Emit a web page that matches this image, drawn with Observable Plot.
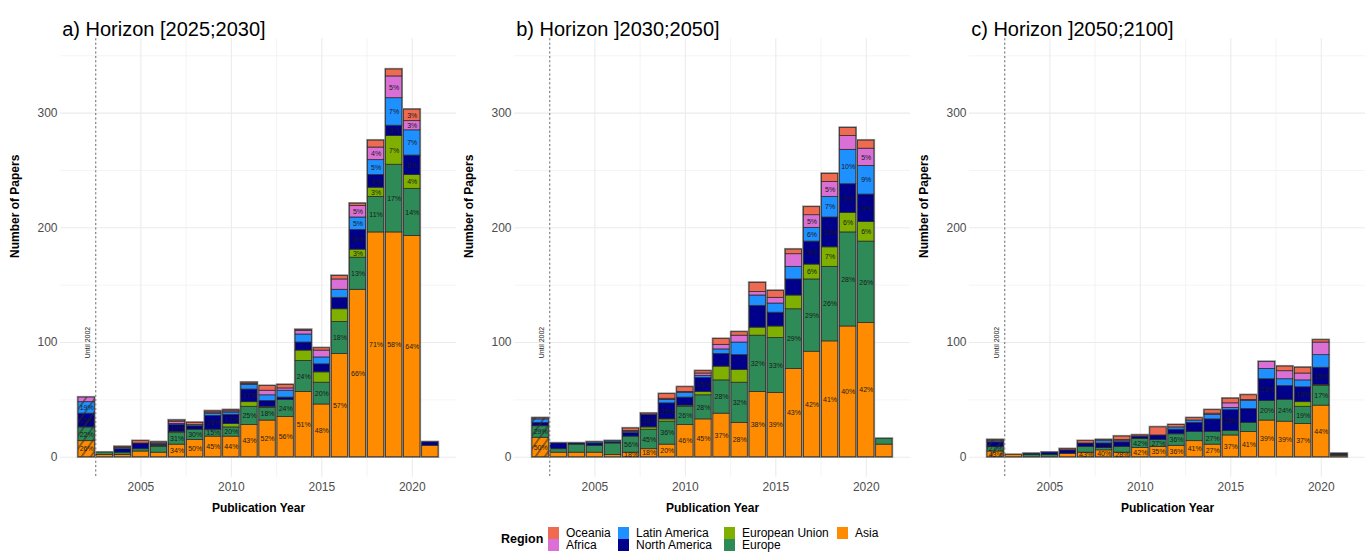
<!DOCTYPE html>
<html>
<head>
<meta charset="utf-8">
<script src="https://cdn.jsdelivr.net/npm/d3@7"></script>
<script src="https://cdn.jsdelivr.net/npm/@observablehq/plot@0.6"></script>
<style>
  body { margin: 0; background: #fff; font-family: "Liberation Sans", Arial, Helvetica, sans-serif; }
  #root { position: relative; width: 1370px; height: 552px; overflow: hidden; background: #fff; }
  .panel { position: absolute; top: 0; }
  .lg-key { position: absolute; width: 11px; height: 12px; }
  .lg-txt { position: absolute; font-size: 12px; color: #000; line-height: 12px; white-space: nowrap; }
  .lg-title { position: absolute; font-size: 12.5px; font-weight: bold; color: #000; line-height: 14px; }
</style>
</head>
<body>
<svg width="0" height="0" style="position:absolute">
  <defs>
    <pattern id="hatch" patternUnits="userSpaceOnUse" width="7.5" height="7.5" patternTransform="rotate(35)">
      <line x1="3.75" y1="-1" x2="3.75" y2="8.5" stroke="#2a2a2a" stroke-width="1"></line>
    </pattern>
  </defs>
</svg>
<div id="root"></div>
<script>
// ---------------- DATA ----------------
const years = [2002, 2003, 2004, 2005, 2006, 2007, 2008, 2009, 2010, 2011,
               2012, 2013, 2014, 2015, 2016, 2017, 2018, 2019, 2020, 2021];
// stacking order, bottom to top
const regions = ["Asia", "Europe", "European Union", "North America", "Latin America", "Africa", "Oceania"];
const regionColors = ["#FF8C00", "#2E8B57", "#7FB000", "#00008B", "#1E90FF", "#DA70D6", "#EE6A50"];
const legendColumns = [["Oceania", "Africa"], ["Latin America", "North America"], ["European Union", "Europe"], ["Asia"]];

const panelTitles = ["a) Horizon [2025;2030]", "b) Horizon ]2030;2050]", "c) Horizon ]2050;2100]"];

const xMajorTicks = [2005, 2010, 2015, 2020];
const xMinorTicks = [2002.5, 2007.5, 2012.5, 2017.5];
const yMajorTicks = [0, 100, 200, 300];
const yMinorTicks = [50, 150, 250, 350];

// Panel a) Horizon [2025;2030] : counts per region, years 2002..2021
const aAsia    = [14, 2, 2, 5, 4, 11, 15, 18, 18, 28, 32, 35, 57, 46, 90, 146, 196, 196, 193, 10];
const aEurope  = [12, 2, 2, 2, 5, 10, 9, 6, 8, 16, 11, 15, 27, 19, 28, 28, 31, 59, 41, 0];
const aEU      = [0, 0, 0, 0, 1, 1, 0, 0, 3, 4, 1, 0, 9, 9, 11, 7, 8, 25, 12, 0];
const aNAm     = [12, 0, 3, 5, 1, 6, 3, 12, 8, 11, 5, 2, 7, 7, 10, 17, 11, 9, 17, 3];
const aLAm     = [10, 0, 1, 0, 1, 1, 1, 2, 2, 4, 5, 6, 7, 6, 7, 11, 13, 24, 22, 0];
const aAfrica  = [4, 0, 0, 0, 0, 2, 0, 1, 1, 1, 4, 2, 3, 6, 9, 10, 11, 19, 8, 0];
const aOceania = [0, 0, 1, 2, 1, 1, 2, 1, 1, 1, 4, 3, 1, 2, 3, 2, 6, 6, 10, 0];

// Panel b) Horizon ]2030;2050]
const bAsia    = [17, 4, 4, 4, 2, 4, 7, 11, 28, 33, 38, 30, 57, 56, 77, 92, 101, 114, 117, 11];
const bEurope  = [10, 3, 7, 6, 10, 14, 17, 20, 16, 21, 29, 35, 49, 48, 52, 63, 65, 82, 71, 5];
const bEU      = [0, 0, 0, 0, 0, 0, 2, 2, 1, 3, 12, 11, 7, 10, 12, 13, 17, 17, 17, 0];
const bNAm     = [3, 5, 1, 2, 1, 3, 11, 14, 7, 12, 11, 13, 19, 12, 14, 20, 26, 25, 24, 0];
const bLAm     = [3, 0, 0, 1, 1, 1, 0, 3, 4, 2, 4, 11, 9, 8, 11, 12, 18, 30, 25, 0];
const bAfrica  = [0, 0, 0, 0, 0, 1, 0, 1, 1, 2, 4, 6, 3, 5, 11, 11, 13, 12, 15, 0];
const bOceania = [1, 0, 0, 0, 0, 2, 1, 4, 4, 2, 5, 3, 8, 6, 4, 7, 7, 7, 7, 0];

// Panel c) Horizon ]2050;2100]
const cAsia    = [5, 2, 0, 0, 3, 4, 6, 4, 8, 9, 10, 14, 11, 19, 22, 32, 31, 29, 45, 1];
const cEurope  = [4, 0, 2, 2, 0, 5, 2, 5, 8, 6, 10, 8, 11, 4, 8, 17, 19, 15, 17, 1];
const cEU      = [0, 0, 0, 0, 0, 0, 0, 0, 0, 0, 0, 0, 0, 0, 0, 0, 0, 4, 1, 0];
const cNAm     = [4, 0, 1, 2, 3, 3, 4, 4, 2, 4, 4, 8, 11, 18, 12, 19, 12, 13, 15, 1];
const cLAm     = [1, 0, 0, 0, 0, 0, 2, 1, 0, 0, 2, 2, 4, 2, 7, 9, 6, 6, 11, 0];
const cAfrica  = [0, 0, 0, 0, 0, 0, 0, 1, 0, 0, 0, 0, 1, 4, 1, 6, 7, 6, 11, 0];
const cOceania = [1, 0, 0, 0, 1, 2, 1, 3, 1, 7, 2, 2, 3, 4, 4, 0, 4, 5, 2, 0];

// Percentage labels shown on segments: [year, region, text]
const aLabels = [
  [2002, "Asia", "26%"], [2002, "Europe", "22%"], [2002, "North America", "25%"], [2002, "Latin America", "19%"],
  [2007, "Asia", "34%"], [2007, "Europe", "31%"], [2007, "North America", "19%"],
  [2008, "Asia", "50%"], [2008, "Europe", "30%"],
  [2009, "Asia", "45%"], [2009, "Europe", "15%"], [2009, "North America", "28%"],
  [2010, "Asia", "44%"], [2010, "Europe", "20%"], [2010, "North America", "17%"],
  [2011, "Asia", "43%"], [2011, "Europe", "25%"], [2011, "North America", "17%"],
  [2012, "Asia", "52%"], [2012, "Europe", "18%"],
  [2013, "Asia", "56%"], [2013, "Europe", "24%"],
  [2014, "Asia", "51%"], [2014, "Europe", "24%"],
  [2015, "Asia", "48%"], [2015, "Europe", "20%"],
  [2016, "Asia", "57%"], [2016, "Europe", "18%"],
  [2017, "Asia", "66%"], [2017, "Europe", "13%"], [2017, "European Union", "3%"], [2017, "North America", "8%"], [2017, "Latin America", "5%"], [2017, "Africa", "5%"],
  [2018, "Asia", "71%"], [2018, "Europe", "11%"], [2018, "European Union", "3%"], [2018, "North America", "4%"], [2018, "Latin America", "5%"], [2018, "Africa", "4%"],
  [2019, "Asia", "58%"], [2019, "Europe", "17%"], [2019, "European Union", "7%"], [2019, "North America", "3%"], [2019, "Latin America", "7%"], [2019, "Africa", "5%"],
  [2020, "Asia", "64%"], [2020, "Europe", "14%"], [2020, "European Union", "4%"], [2020, "North America", "6%"], [2020, "Latin America", "7%"], [2020, "Africa", "3%"], [2020, "Oceania", "3%"]
];
const bLabels = [
  [2002, "Asia", "50%"], [2002, "Europe", "29%"],
  [2007, "Asia", "18%"], [2007, "Europe", "56%"],
  [2008, "Asia", "18%"], [2008, "Europe", "45%"], [2008, "North America", "28%"],
  [2009, "Asia", "20%"], [2009, "Europe", "36%"], [2009, "North America", "25%"],
  [2010, "Asia", "46%"], [2010, "Europe", "26%"],
  [2011, "Asia", "45%"], [2011, "Europe", "28%"], [2011, "North America", "15%"],
  [2012, "Asia", "37%"], [2012, "Europe", "28%"],
  [2013, "Asia", "28%"], [2013, "Europe", "32%"],
  [2014, "Asia", "38%"], [2014, "Europe", "32%"],
  [2015, "Asia", "39%"], [2015, "Europe", "33%"],
  [2016, "Asia", "43%"], [2016, "Europe", "29%"],
  [2017, "Asia", "42%"], [2017, "Europe", "29%"], [2017, "European Union", "6%"], [2017, "North America", "9%"], [2017, "Latin America", "6%"], [2017, "Africa", "5%"],
  [2018, "Asia", "41%"], [2018, "Europe", "26%"], [2018, "European Union", "7%"], [2018, "North America", "10%"], [2018, "Latin America", "7%"], [2018, "Africa", "5%"],
  [2019, "Asia", "40%"], [2019, "Europe", "28%"], [2019, "European Union", "6%"], [2019, "North America", "9%"], [2019, "Latin America", "10%"],
  [2020, "Asia", "42%"], [2020, "Europe", "26%"], [2020, "European Union", "6%"], [2020, "North America", "9%"], [2020, "Latin America", "9%"], [2020, "Africa", "5%"]
];
const cLabels = [
  [2002, "Asia", "43%"], [2002, "Europe", "27%"],
  [2007, "Asia", "43%"],
  [2008, "Asia", "40%"], [2008, "North America", "27%"],
  [2009, "Asia", "28%"],
  [2010, "Asia", "42%"], [2010, "Europe", "42%"],
  [2011, "Asia", "35%"], [2011, "Europe", "27%"],
  [2012, "Asia", "36%"], [2012, "Europe", "36%"],
  [2013, "Asia", "41%"],
  [2014, "Asia", "27%"], [2014, "Europe", "27%"],
  [2015, "Asia", "37%"], [2015, "North America", "35%"],
  [2016, "Asia", "41%"],
  [2017, "Asia", "39%"], [2017, "Europe", "20%"], [2017, "North America", "23%"],
  [2018, "Asia", "39%"], [2018, "Europe", "24%"],
  [2019, "Asia", "37%"], [2019, "Europe", "19%"], [2019, "North America", "16%"],
  [2020, "Asia", "44%"], [2020, "Europe", "17%"], [2020, "North America", "15%"]
];

const untilLabel = "Until 2002";
const xTitle = "Publication Year";
const yTitle = "Number of Papers";
const legendTitle = "Region";

const panels = [
  {title: panelTitles[0], series: [aAsia, aEurope, aEU, aNAm, aLAm, aAfrica, aOceania], labels: aLabels},
  {title: panelTitles[1], series: [bAsia, bEurope, bEU, bNAm, bLAm, bAfrica, bOceania], labels: bLabels},
  {title: panelTitles[2], series: [cAsia, cEurope, cEU, cNAm, cLAm, cAfrica, cOceania], labels: cLabels}
];

// ---------------- BUILD ----------------
const FONT = '"Liberation Sans", Arial, Helvetica, sans-serif';
const halfWidth = 0.45;
const panelLefts = [3, 457.3, 911.6];

function stackRows(series) {
  const rows = [], totals = [], lookup = new Map();
  years.forEach((yr, i) => {
    let acc = 0;
    regions.forEach((r, k) => {
      const v = series[k][i];
      if (v > 0) {
        const row = {year: yr, region: r, y1: acc, y2: acc + v};
        rows.push(row);
        lookup.set(yr + "|" + r, row);
      }
      acc += v;
    });
    totals.push({year: yr, total: acc});
  });
  return {rows, totals, lookup};
}

const root = document.getElementById("root");

panels.forEach((p, idx) => {
  const {rows, totals, lookup} = stackRows(p.series);
  const labelRows = p.labels
    .map(([yr, r, t]) => {
      const s = lookup.get(yr + "|" + r);
      return s ? {year: yr, mid: (s.y1 + s.y2) / 2, text: t} : null;
    })
    .filter(d => d);
  const firstTotal = totals.filter(d => d.year === years[0]);

  const chart = Plot.plot({
    width: 454,
    height: 522,
    marginLeft: 57,
    marginRight: 1,
    marginTop: 38.3,
    marginBottom: 45.3,
    style: {fontFamily: FONT, background: "transparent", overflow: "visible"},
    x: {domain: [2000.555, 2022.445], axis: null},
    y: {domain: [-17.4, 364.8], axis: null},
    color: {domain: regions, range: regionColors},
    marks: [
      Plot.ruleY(yMinorTicks, {stroke: "#ebebeb", strokeWidth: 0.55}),
      Plot.ruleX(xMinorTicks, {stroke: "#ebebeb", strokeWidth: 0.55}),
      Plot.ruleY(yMajorTicks, {stroke: "#ebebeb", strokeWidth: 1.07}),
      Plot.ruleX(xMajorTicks, {stroke: "#ebebeb", strokeWidth: 1.07}),
      Plot.axisX({ticks: xMajorTicks, tickSize: 0, tickPadding: 5, tickFormat: d => String(d),
                  fontSize: 12, color: "#4d4d4d", label: null}),
      Plot.axisY({ticks: yMajorTicks, tickSize: 0, tickPadding: 3, tickFormat: d => String(d),
                  fontSize: 12, color: "#4d4d4d", label: null}),
      // outer outline of each bar
      Plot.rect(totals.filter(d => d.total > 0), {
        x1: d => d.year - halfWidth, x2: d => d.year + halfWidth, y1: 0, y2: "total",
        fill: "none", stroke: "#8d8d8d", strokeWidth: 2.4
      }),
      // stacked segments
      Plot.rect(rows, {
        x1: d => d.year - halfWidth, x2: d => d.year + halfWidth, y1: "y1", y2: "y2",
        fill: "region", stroke: "#2b2b2b", strokeWidth: 0.75
      }),
      // hatching over the "Until 2002" bar
      Plot.rect(firstTotal, {
        x1: d => d.year - halfWidth, x2: d => d.year + halfWidth, y1: 0, y2: "total",
        fill: "url(#hatch)"
      }),
      Plot.ruleX([2002.5], {stroke: "#8a8a8a", strokeWidth: 1.3, strokeDasharray: "2,2.4"}),
      Plot.text(labelRows, {x: "year", y: "mid", text: "text", fontSize: 7, fill: "#1a1a1a"}),
      Plot.text([untilLabel], {x: years[0], y: 100, text: d => d, rotate: -90, fontSize: 7, fill: "#1a1a1a", dx: 1}),
      // panel title
      Plot.text([p.title], {frameAnchor: "top-left", text: d => d, textAnchor: "start",
                            dx: 1.7, dy: -17.2, fontSize: 20, fill: "#000"}),
      // axis titles
      Plot.text([xTitle], {frameAnchor: "bottom", text: d => d, dy: 35, fontSize: 12,
                           fontWeight: "bold", fill: "#000"}),
      Plot.text([yTitle], {frameAnchor: "left", text: d => d, dx: -45, rotate: -90, fontSize: 12,
                           fontWeight: "bold", fill: "#000"})
    ]
  });
  chart.classList.add("panel");
  chart.style.left = panelLefts[idx] + "px";
  root.appendChild(chart);
});

// ---------------- LEGEND ----------------
const colorOf = r => regionColors[regions.indexOf(r)];
const lgTitle = document.createElement("div");
lgTitle.className = "lg-title";
lgTitle.textContent = legendTitle;
lgTitle.style.left = "501px";
lgTitle.style.top = "532px";
root.appendChild(lgTitle);

const colKeyX = [548, 618, 724, 837];
const rowTop = [527, 539];
legendColumns.forEach((col, ci) => {
  col.forEach((r, ri) => {
    const key = document.createElement("div");
    key.className = "lg-key";
    key.style.left = colKeyX[ci] + "px";
    key.style.top = rowTop[ri] + "px";
    key.style.background = colorOf(r);
    root.appendChild(key);
    const t = document.createElement("div");
    t.className = "lg-txt";
    t.textContent = r;
    t.style.left = (colKeyX[ci] + 18) + "px";
    t.style.top = rowTop[ri] + "px";
    root.appendChild(t);
  });
});
</script>
</body>
</html>
